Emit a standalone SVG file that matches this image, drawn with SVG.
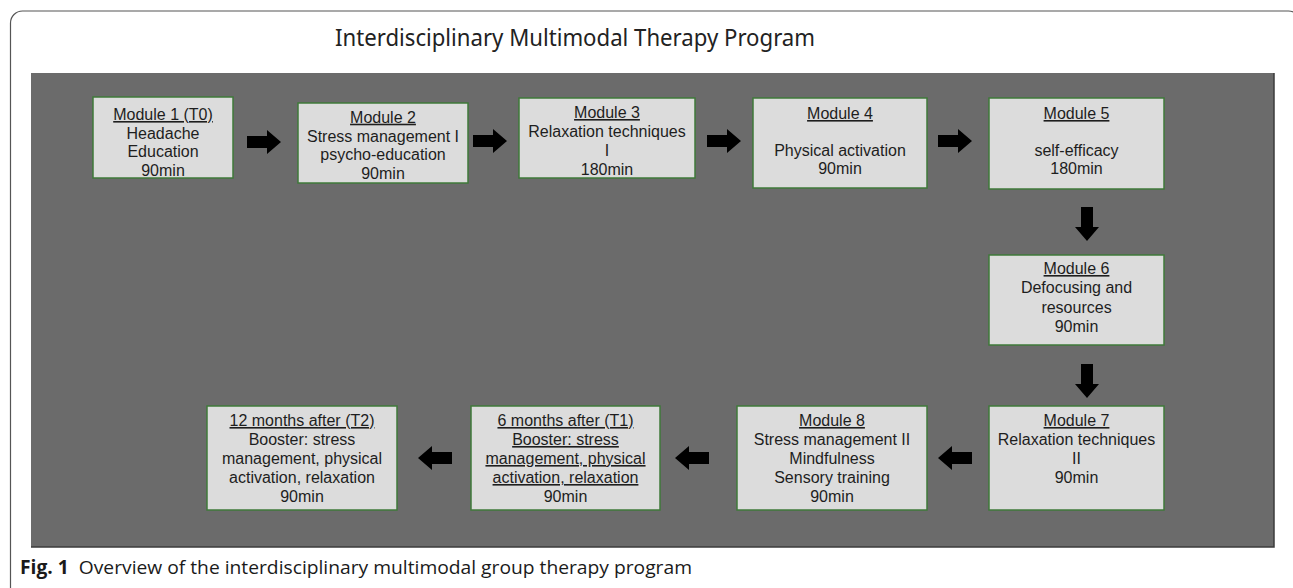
<svg xmlns="http://www.w3.org/2000/svg" width="1293" height="588" viewBox="0 0 1293 588">
<style>
.box{fill:#dcdcdc;stroke:#3f7a3a;stroke-width:1.5}
.t{font-family:"Liberation Sans",Arial,sans-serif;font-size:16px;fill:#1e1e1e;text-anchor:middle}
.u{text-decoration:underline}
.arr{fill:#000}
</style>
<defs>
<path id="ar" d="M0,-6 H20 V-12 L34,0 L20,12 V6 H0 Z"/>
</defs>
<rect x="10.5" y="11" width="1290" height="590" rx="12" fill="#fff" stroke="#555" stroke-width="1.2"/>
<text x="335" y="46" textLength="480" lengthAdjust="spacingAndGlyphs" font-family="'Noto Sans','DejaVu Sans',sans-serif" font-size="23" fill="#222">Interdisciplinary Multimodal Therapy Program</text>
<rect x="31" y="73" width="1243" height="474" fill="#6b6b6b"/>
<path d="M1274,73 V547 H31" fill="none" stroke="#3c3c3c" stroke-width="1.5"/>

<g id="m1"><rect class="box" x="93" y="97" width="140" height="81"/>
<text class="t"><tspan class="u" x="163" y="120">Module 1 (T0)</tspan><tspan x="163" y="138.7">Headache</tspan><tspan x="163" y="157.3">Education</tspan><tspan x="163" y="176">90min</tspan></text></g>

<g id="m2"><rect class="box" x="298" y="103" width="170" height="80"/>
<text class="t"><tspan class="u" x="383" y="122.7">Module 2</tspan><tspan x="383" y="141.5">Stress management I</tspan><tspan x="383" y="160.3">psycho-education</tspan><tspan x="383" y="179">90min</tspan></text></g>

<g id="m3"><rect class="box" x="519" y="98" width="176" height="80"/>
<text class="t"><tspan class="u" x="607" y="118">Module 3</tspan><tspan x="607" y="137">Relaxation techniques</tspan><tspan x="607" y="156">I</tspan><tspan x="607" y="175">180min</tspan></text></g>

<g id="m4"><rect class="box" x="753" y="98" width="174" height="90"/>
<text class="t"><tspan class="u" x="840" y="119">Module 4</tspan><tspan x="840" y="155.5">Physical activation</tspan><tspan x="840" y="174">90min</tspan></text></g>

<g id="m5"><rect class="box" x="989" y="98" width="175" height="91"/>
<text class="t"><tspan class="u" x="1076.5" y="119">Module 5</tspan><tspan x="1076.5" y="155.5">self-efficacy</tspan><tspan x="1076.5" y="174">180min</tspan></text></g>

<g id="m6"><rect class="box" x="989" y="255" width="175" height="90"/>
<text class="t"><tspan class="u" x="1076.5" y="274">Module 6</tspan><tspan x="1076.5" y="293.3">Defocusing and</tspan><tspan x="1076.5" y="312.7">resources</tspan><tspan x="1076.5" y="332">90min</tspan></text></g>

<g id="m7"><rect class="box" x="989" y="406" width="175" height="104"/>
<text class="t"><tspan class="u" x="1076.5" y="426">Module 7</tspan><tspan x="1076.5" y="445">Relaxation techniques</tspan><tspan x="1076.5" y="464">II</tspan><tspan x="1076.5" y="483">90min</tspan></text></g>

<g id="m8"><rect class="box" x="737" y="406" width="190" height="104"/>
<text class="t"><tspan class="u" x="832" y="426">Module 8</tspan><tspan x="832" y="445">Stress management II</tspan><tspan x="832" y="464">Mindfulness</tspan><tspan x="832" y="483">Sensory training</tspan><tspan x="832" y="502">90min</tspan></text></g>

<g id="t1"><rect class="box" x="471" y="406" width="189" height="104"/>
<text class="t"><tspan class="u" x="565.5" y="426">6 months after (T1)</tspan><tspan class="u" x="565.5" y="445">Booster: stress</tspan><tspan class="u" x="565.5" y="464">management, physical</tspan><tspan class="u" x="565.5" y="483">activation, relaxation</tspan><tspan x="565.5" y="502">90min</tspan></text></g>

<g id="t2"><rect class="box" x="207" y="406" width="190" height="104"/>
<text class="t"><tspan class="u" x="302" y="426">12 months after (T2)</tspan><tspan x="302" y="445">Booster: stress</tspan><tspan x="302" y="464">management, physical</tspan><tspan x="302" y="483">activation, relaxation</tspan><tspan x="302" y="502">90min</tspan></text></g>

<g id="connectors" class="arr">
<use href="#ar" transform="translate(247,142)"/>
<use href="#ar" transform="translate(473,141)"/>
<use href="#ar" transform="translate(707,141)"/>
<use href="#ar" transform="translate(938,141)"/>
<use href="#ar" transform="translate(1087,207) rotate(90)"/>
<use href="#ar" transform="translate(1087,364) rotate(90)"/>
<use href="#ar" transform="translate(972,458) rotate(180)"/>
<use href="#ar" transform="translate(709,458) rotate(180)"/>
<use href="#ar" transform="translate(452,458) rotate(180)"/>
</g>

<text x="20" y="574" font-family="'Open Sans','Noto Sans',sans-serif" font-size="19" fill="#1a1a1a" textLength="672" lengthAdjust="spacingAndGlyphs" xml:space="preserve"><tspan font-weight="bold">Fig. 1</tspan><tspan>  Overview of the interdisciplinary multimodal group therapy program</tspan></text>
</svg>
